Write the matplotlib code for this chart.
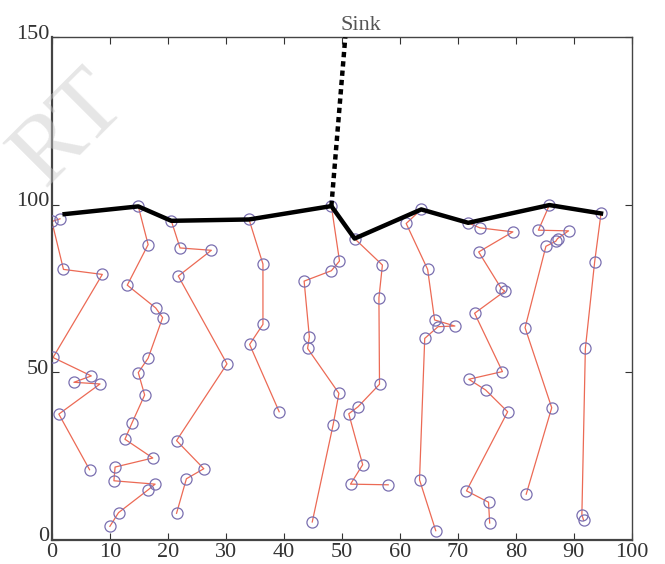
import matplotlib.pyplot as plt
import matplotlib.transforms as mtransforms

# cluster chains (x, y), top node first
chain1 = [(1.4, 95.8), (0.0, 95.0), (2.0, 80.7), (8.7, 79.2), (0.2, 54.4), (6.8, 48.9),
          (3.8, 47.0), (8.3, 46.5), (1.2, 37.5), (6.5, 20.9)]
chain2 = [(14.9, 99.5), (16.6, 88.1), (13.0, 76.0), (17.9, 69.2), (19.1, 66.3), (16.6, 54.2),
          (14.9, 49.9), (16.0, 43.2), (13.8, 34.8), (12.6, 30.0), (17.4, 24.4), (10.9, 21.7),
          (10.7, 17.6), (17.8, 16.6), (16.6, 14.9), (11.5, 8.1), (10.0, 4.0)]
chain3 = [(20.6, 95.2), (22.1, 87.1), (27.5, 86.4), (21.8, 78.7), (30.2, 52.5), (21.5, 29.6),
          (26.2, 21.2), (23.2, 18.2), (21.5, 7.9)]
chain4 = [(34.0, 95.6), (36.4, 82.3), (36.4, 64.3), (34.1, 58.3), (39.2, 38.2)]
chain5 = [(48.2, 99.6), (49.6, 83.2), (48.2, 80.3), (43.5, 77.2), (44.4, 60.6), (44.1, 57.1),
          (49.5, 43.7), (48.5, 34.3), (44.9, 5.3)]
chain6 = [(52.2, 89.9), (57.0, 82.0), (56.4, 72.2), (56.5, 46.4), (52.8, 39.7), (51.2, 37.6),
          (53.6, 22.4), (51.5, 16.6), (58.0, 16.4)]
chain7 = [(63.7, 98.6), (61.1, 94.4), (64.8, 80.7), (66.0, 65.6), (69.5, 63.8), (66.6, 63.6),
          (64.3, 60.1), (63.4, 17.9), (66.2, 2.7)]
chain8 = [(71.8, 94.6), (73.8, 93.1), (79.5, 91.9), (73.6, 85.9), (77.5, 75.0), (78.1, 74.2),
          (72.9, 67.6), (77.7, 50.2), (71.9, 47.9), (74.8, 44.7), (78.6, 38.2), (71.5, 14.6),
          (75.3, 11.2), (75.5, 5.0)]
chain9 = [(85.8, 99.9), (83.9, 92.4), (89.1, 92.2), (87.2, 89.9), (86.9, 89.1), (85.2, 87.6),
          (81.6, 63.3), (86.2, 39.4), (81.8, 13.6)]
chain10 = [(94.7, 97.4), (93.6, 82.9), (92.0, 57.1), (91.4, 7.5), (91.7, 5.8)]
chains = [chain1, chain2, chain3, chain4, chain5, chain6, chain7, chain8, chain9, chain10]

# backbone between cluster heads, and the link up to the sink
backbone_x = [2.2, 14.9, 20.6, 34.0, 48.2, 52.2, 63.7, 71.8, 85.8, 94.7]
backbone_y = [97.2, 99.5, 95.2, 95.6, 99.6, 89.9, 98.6, 94.6, 99.9, 97.4]
sink_x = [48.2, 50.6]
sink_y = [99.6, 150]

plt.rcParams['font.family'] = ['Liberation Serif', 'DejaVu Serif']

fig = plt.figure(figsize=(6.65, 5.64), dpi=100)
ax = fig.add_axes([0.078, 0.043, 0.872, 0.891])

for c in chains:
    xs = [p[0] for p in c]
    ys = [p[1] for p in c]
    ax.plot(xs, ys, color='#ec6a55', linewidth=0.9, zorder=2)
    ax.plot(xs, ys, linestyle='none', marker='o', markersize=8, markerfacecolor='none',
            markeredgecolor='#7a6fb0', markeredgewidth=0.9, zorder=3)

ax.plot(backbone_x, backbone_y, color='black', linewidth=3.2, zorder=4, solid_joinstyle='round')
ax.plot(sink_x, sink_y, color='black', linewidth=3.2, linestyle=(0, (1.2, 0.9)), zorder=4,
        clip_on=False)

ax.text(53.3, 150.8, 'Sink', ha='center', va='bottom', fontsize=16, color='#555555')

# faint watermark in the top-left corner
fig.text(0.105, 0.77, 'RT', fontsize=70, color='#c8c8c8', alpha=0.45, rotation=45,
         ha='center', va='center', zorder=10)

ax.set_xlim(0, 100)
ax.set_ylim(0, 150)
ax.set_xticks(range(0, 101, 10))
ax.set_yticks([0, 50, 100, 150])
ax.tick_params(direction='in', top=True, right=True, labelsize=16, length=5, pad=2,
               colors='#333333')
# y labels sit a little above their ticks in the original
shift = mtransforms.ScaledTranslation(0, 4 / 72, fig.dpi_scale_trans)
for lbl in ax.get_yticklabels():
    lbl.set_transform(lbl.get_transform() + shift)
for s in ax.spines.values():
    s.set_color('#444444')
    s.set_linewidth(1.0)
ax.spines['left'].set_linewidth(1.6)
ax.spines['bottom'].set_linewidth(1.6)

fig.savefig('out.png', dpi=100)
